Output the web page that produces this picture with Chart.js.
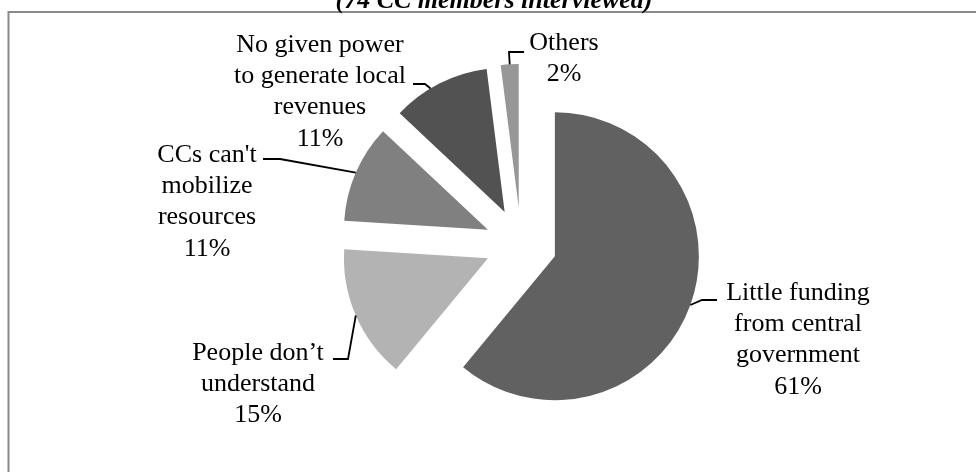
<!DOCTYPE html>
<html>
<head>
<meta charset="utf-8">
<script src="https://cdn.jsdelivr.net/npm/chart.js@4/dist/chart.umd.min.js"></script>
<style>
  html, body { margin: 0; padding: 0; background: #ffffff; }
  #wrap { width: 976px; height: 472px; position: relative; }
</style>
</head>
<body>
<div id="wrap"><canvas id="pie" width="976" height="472"></canvas></div>
<script>
// Reasons CCs give for weak local revenue
const categories = [
  'Little funding\nfrom central\ngovernment',
  'People don\u2019t\nunderstand',
  'CCs can\'t\nmobilize\nresources',
  'No given power\nto generate local\nrevenues',
  'Others'
];
const shares = [61, 15, 11, 11, 2];
const sliceColors = ['#616161', '#b3b3b3', '#808080', '#525252', '#979797'];
const subtitle = '(74 CC members interviewed)';

// Label placement: text centre x, first line centre y,
// point where the leader meets the text, leader elbow, and where on the arc it attaches (0..1)
const labelLayout = [
  { x: 798, y: 293, end: [717, 300], elbow: [702, 300], at: 0.5 },
  { x: 258, y: 353, end: [333, 359], elbow: [348, 359], at: 0.5 },
  { x: 207, y: 155, end: [263, 159], elbow: [280, 159], at: 0.5 },
  { x: 320, y: 45,  end: [413, 84],  elbow: [425, 84],  at: 0.4 },
  { x: 564, y: 43,  end: [524, 52],  elbow: [509, 52],  at: 0.5 }
];
const EXPLODE = 36;
const LINE_GAP = 31.3;
const LABEL_FONT = "26px 'Liberation Serif', 'Times New Roman', serif";

// Pull every slice out along its bisector, using the arc element's own drawing
const explodePlugin = {
  id: 'explode',
  beforeDatasetDraw(chart, args) {
    const ctx = chart.ctx;
    const meta = args.meta;
    meta.data.forEach(arc => {
      const mid = (arc.startAngle + arc.endAngle) / 2;
      ctx.save();
      ctx.translate(Math.cos(mid) * EXPLODE, Math.sin(mid) * EXPLODE);
      arc.draw(ctx);
      ctx.restore();
    });
    return false;
  }
};

// Frame, subtitle, data labels and leader lines
const decorPlugin = {
  id: 'decor',
  afterDraw(chart) {
    const ctx = chart.ctx;
    ctx.save();
    ctx.strokeStyle = '#8a8a8a';
    ctx.lineWidth = 2;
    ctx.strokeRect(8.5, 12, 1100, 600);

    ctx.fillStyle = '#000';
    ctx.font = "italic bold 26px 'Liberation Serif', 'Times New Roman', serif";
    ctx.textAlign = 'center';
    ctx.textBaseline = 'alphabetic';
    ctx.fillText(subtitle, 494, 7.5);

    const meta = chart.getDatasetMeta(0);
    const values = chart.data.datasets[0].data;
    ctx.font = LABEL_FONT;
    ctx.textBaseline = 'middle';
    meta.data.forEach((arc, i) => {
      const L = labelLayout[i];
      const lines = chart.data.labels[i].split('\n').concat([values[i] + '%']);
      lines.forEach((t, k) => ctx.fillText(t, L.x, L.y + k * LINE_GAP));

      const mid = (arc.startAngle + arc.endAngle) / 2;
      const cx = arc.x + Math.cos(mid) * EXPLODE;
      const cy = arc.y + Math.sin(mid) * EXPLODE;
      const a = arc.startAngle + (arc.endAngle - arc.startAngle) * L.at;
      const px = cx + Math.cos(a) * arc.outerRadius;
      const py = cy + Math.sin(a) * arc.outerRadius;
      ctx.beginPath();
      ctx.strokeStyle = '#000';
      ctx.lineWidth = 1.8;
      ctx.moveTo(L.end[0], L.end[1]);
      ctx.lineTo(L.elbow[0], L.elbow[1]);
      ctx.lineTo(px, py);
      ctx.stroke();
    });
    ctx.restore();
  }
};

new Chart(document.getElementById('pie'), {
  type: 'pie',
  data: {
    labels: categories,
    datasets: [{
      data: shares,
      backgroundColor: sliceColors,
      borderWidth: 0,
      offset: 0,
      hoverOffset: 0
    }]
  },
  options: {
    responsive: false,
    animation: false,
    radius: 144,
    layout: { padding: { left: 100, right: 34, top: 20, bottom: 4 } },
    plugins: {
      legend: { display: false },
      tooltip: { enabled: false },
      title: { display: false }
    },
    events: []
  },
  plugins: [explodePlugin, decorPlugin]
});
</script>
</body>
</html>
